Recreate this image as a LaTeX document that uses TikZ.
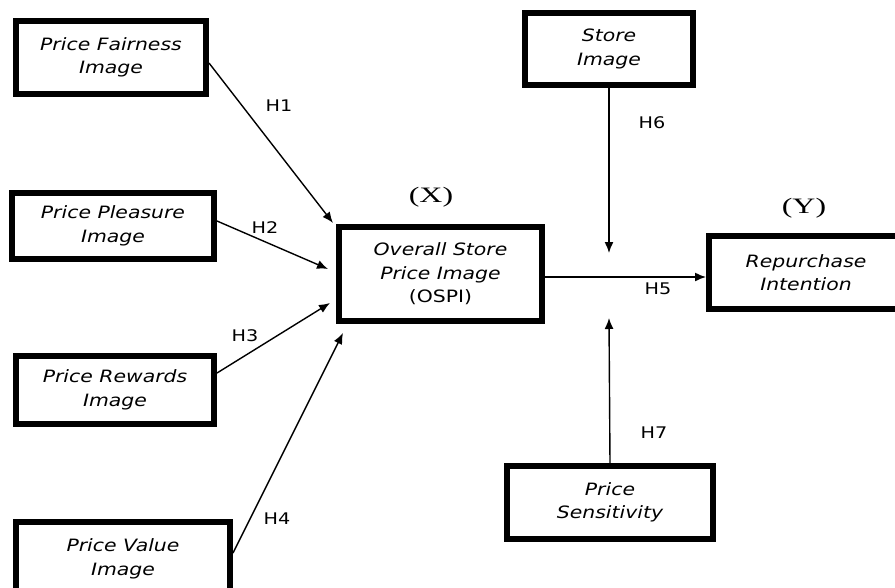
\documentclass[tikz,border=0pt]{standalone}
\usepackage{fontspec}
\setmainfont{Liberation Serif}
\newfontfamily\boxfont[FakeStretch=1.2]{DejaVu Sans}
\newfontfamily\xyfont[FakeStretch=1.45]{Liberation Serif}
\usetikzlibrary{arrows.meta}

\begin{document}
\begin{tikzpicture}[x=1pt,y=-1pt,
  box/.style={draw,line width=6pt,align=center,inner sep=0pt,
    font=\boxfont\itshape\fontsize{17}{23.5}\selectfont},
  hyp/.style={font=\boxfont\fontsize{16}{18}\selectfont},
  xy/.style={font=\xyfont\fontsize{22}{24}\selectfont},
  arr/.style={line width=1.4pt,-{Latex[length=11pt,width=9pt]}}]
\useasboundingbox (0,0) rectangle (895,587);
\clip (0,0) rectangle (895,587);
\node[box,minimum width=190pt,minimum height=73pt] (fair) at (111,57.5) {Price Fairness\\Image};
\node[box,minimum width=202pt,minimum height=66pt] (pleas) at (113,226) {Price Pleasure\\Image};
\node[box,minimum width=198pt,minimum height=68pt] (reward) at (115,390) {Price Rewards\\Image};
\node[box,minimum width=214pt,minimum height=74pt] (value) at (123,559) {Price Value\\Image};
\node[box,minimum width=203pt,minimum height=94pt] (ospi) at (440.5,274) {Overall Store\\Price Image\\\upshape(OSPI)};
\node[box,minimum width=168pt,minimum height=72pt] (store) at (609,49) {Store\\Image};
\node[box,minimum width=194pt,minimum height=73pt] (rep) at (806,272.5) {Repurchase\\Intention};
\node[box,minimum width=206pt,minimum height=73pt] (sens) at (610,502.5) {Price\\Sensitivity};
\node[xy] (x) at (431,197) {(X)};
\node[xy] (y) at (804,208) {(Y)};
\coordinate (t1) at (333,223);
\coordinate (t2) at (328,269);
\coordinate (t3) at (330,303);
\coordinate (t4) at (343,333);
\coordinate (m6) at (609,253);
\coordinate (m7) at (609,318);
\draw[arr] ([yshift=-5.5pt]fair.east) -- (t1);
\draw[arr] ([yshift=5pt]pleas.east) -- (t2);
\draw[arr] ([yshift=17pt]reward.east) -- (t3);
\draw[arr] ([yshift=6pt]value.east) -- (t4);
\draw[arr] ([yshift=-3pt]ospi.east) -- ([yshift=-3pt]ospi.east -| rep.west);
\draw[arr] (store.south) -- (m6);
\draw[arr] (sens.north) -- (m7);
\foreach \n/\p in {1/{(279,106)},2/{(265,228)},3/{(245,336)},4/{(277,519)},
  5/{(658,289)},6/{(652,123)},7/{(654,433)}}{
  \node[hyp] (h\n) at \p {H\n};
}
\end{tikzpicture}
\end{document}
